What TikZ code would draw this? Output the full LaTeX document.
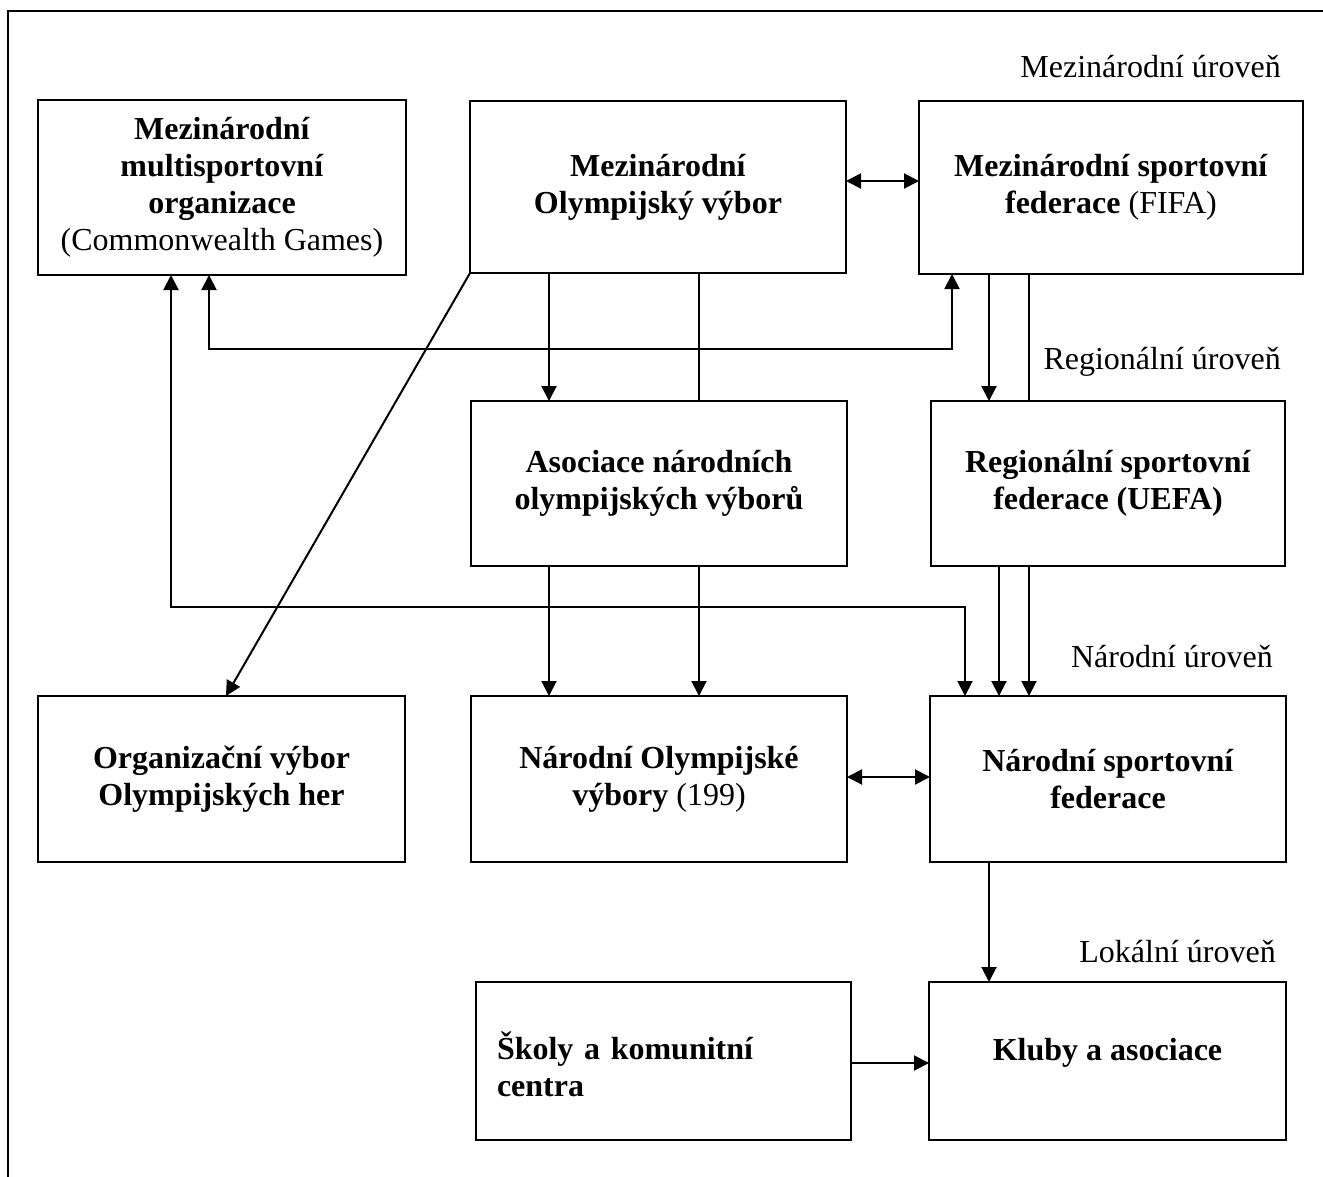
\documentclass[tikz,border=0pt]{standalone}
\usepackage{fontspec}
\setmainfont{Liberation Serif}
\usetikzlibrary{arrows.meta}
\begin{document}
\begin{tikzpicture}[x=1pt,y=-1pt,
  box/.style={draw, line width=2pt, inner sep=0pt, outer sep=0pt, align=center,
    font=\fontsize{32}{37}\selectfont},
  conn/.style={line width=2pt},
  tipA/.tip={Triangle[length=15pt,width=15pt]},
  arr/.style={conn, -tipA},
  darr/.style={conn, tipA-tipA},
  lvl/.style={anchor=east, inner sep=0pt, font=\fontsize{32}{37}\selectfont}]
\useasboundingbox (0,0) rectangle (1323,1176);
% frame
\draw[line width=2.5pt] (8,1180) -- (8,11) -- (1330,11);

% boxes
\node[box, minimum width=368pt, minimum height=175pt] (A) at (222,187.5)
  {\textbf{Mezinárodní}\\\textbf{multisportovní}\\\textbf{organizace}\\(Commonwealth Games)};
\node[box, minimum width=376pt, minimum height=172pt] (B) at (658,187)
  {\textbf{Mezinárodní}\\\textbf{Olympijský výbor}};
\node[box, minimum width=384pt, minimum height=173pt] (C) at (1111,187.5)
  {\textbf{Mezinárodní sportovní}\\\textbf{federace} (FIFA)};
\node[box, minimum width=376pt, minimum height=165pt] (D) at (659,483.5)
  {\textbf{Asociace národních}\\\textbf{olympijských výborů}};
\node[box, minimum width=354pt, minimum height=165pt] (E) at (1108,483.5)
  {\textbf{Regionální sportovní}\\\textbf{federace (UEFA)}};
\node[box, minimum width=367pt, minimum height=166pt] (F) at (221.5,779)
  {\textbf{Organizační výbor}\\\textbf{Olympijských her}};
\node[box, minimum width=376pt, minimum height=166pt] (G) at (659,779)
  {\textbf{Národní Olympijské}\\\textbf{výbory} (199)};
\node[box, minimum width=356pt, minimum height=166pt] (H) at (1108,779)
  {\textbf{Národní sportovní}\\\textbf{federace}};
\node[box, minimum width=375pt, minimum height=158pt, align=left, text width=333pt,
  inner xsep=21pt, text height=35pt] (I) at (663.5,1061)
  {\textbf{Školy a komunitní}\\\textbf{centra}};
\node[box, minimum width=357pt, minimum height=158pt, text depth=23pt] (J) at (1107.5,1061)
  {\textbf{Kluby a asociace}};

% level labels
\node[lvl] (L1) at (1281,67) {Mezinárodní úroveň};
\node[lvl] (L2) at (1281,362) {Regionální úroveň};
\node[lvl] (L3) at (1273,657) {Národní úroveň};
\node[lvl] (L4) at (1276,952) {Lokální úroveň};

% helper coordinates
\coordinate (x171) at (171,0);
\coordinate (x209) at (209,0);
\coordinate (x549) at (549,0);
\coordinate (x699) at (699,0);
\coordinate (x952) at (952,0);
\coordinate (x965) at (965,0);
\coordinate (x989) at (989,0);
\coordinate (x999) at (999,0);
\coordinate (x1029) at (1029,0);
\coordinate (y181) at (0,181);
\coordinate (y349) at (0,349);
\coordinate (y607) at (0,607);
\coordinate (y777) at (0,777);
\coordinate (y1063) at (0,1063);

% connectors
\draw[darr] (B.east |- y181) -- (C.west |- y181);
\draw[darr] (G.east |- y777) -- (H.west |- y777);
\draw[arr] (x549 |- B.south) -- (x549 |- D.north);
\draw[conn] (x699 |- B.south) -- (x699 |- D.north);
\draw[arr] (x989 |- C.south) -- (x989 |- E.north);
\draw[conn] (x1029 |- C.south) -- (x1029 |- E.north);
\draw[darr] (x209 |- A.south) -- (x209 |- y349) -- (x952 |- y349) -- (x952 |- C.south);
\draw[darr] (x171 |- A.south) -- (x171 |- y607) -- (x965 |- y607) -- (x965 |- H.north);
\draw[arr] (B.south west) -- ([xshift=4.5pt]F.north);
\draw[arr] (x549 |- D.south) -- (x549 |- G.north);
\draw[arr] (x699 |- D.south) -- (x699 |- G.north);
\draw[arr] (x999 |- E.south) -- (x999 |- H.north);
\draw[arr] (x1029 |- E.south) -- (x1029 |- H.north);
\draw[arr] (x989 |- H.south) -- (x989 |- J.north);
\draw[arr] (I.east |- y1063) -- (J.west |- y1063);
\end{tikzpicture}
\end{document}
